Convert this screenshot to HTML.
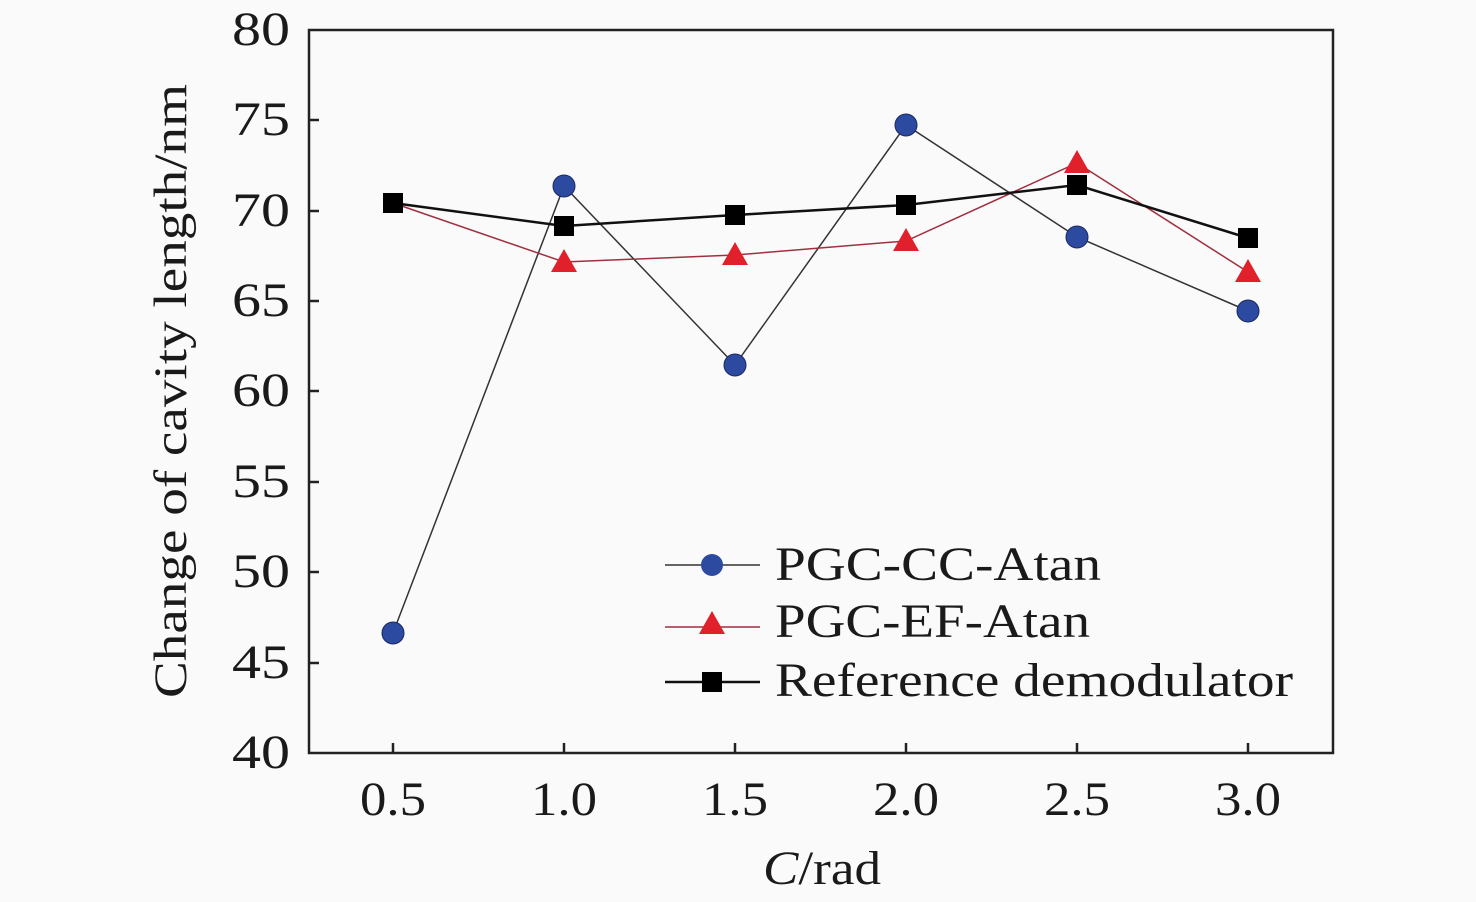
<!DOCTYPE html>
<html><head><style>body{margin:0;background:#fafafa}svg{display:block}</style></head><body>
<svg width="1476" height="902" viewBox="0 0 1476 902" xmlns="http://www.w3.org/2000/svg" font-family="Liberation Serif, serif" fill="#1a1a1a">
<rect width="1476" height="902" fill="#fafafa"/>
<g stroke="#222" stroke-width="2.5" fill="none">
<rect x="309" y="30" width="1024" height="723"/>
<path d="M393 753v-10M564 753v-10M735 753v-10M906 753v-10M1077 753v-10M1248 753v-10M309 663h10M309 572h10M309 482h10M309 391h10M309 301h10M309 211h10M309 120h10"/>
</g>
<g font-size="48" text-anchor="end">
<text x="290" y="768" textLength="58" lengthAdjust="spacingAndGlyphs">40</text><text x="290" y="678" textLength="58" lengthAdjust="spacingAndGlyphs">45</text><text x="290" y="587" textLength="58" lengthAdjust="spacingAndGlyphs">50</text><text x="290" y="497" textLength="58" lengthAdjust="spacingAndGlyphs">55</text><text x="290" y="406" textLength="58" lengthAdjust="spacingAndGlyphs">60</text><text x="290" y="316" textLength="58" lengthAdjust="spacingAndGlyphs">65</text><text x="290" y="226" textLength="58" lengthAdjust="spacingAndGlyphs">70</text><text x="290" y="135" textLength="58" lengthAdjust="spacingAndGlyphs">75</text><text x="290" y="45" textLength="58" lengthAdjust="spacingAndGlyphs">80</text>
</g>
<g font-size="48" text-anchor="middle">
<text x="393" y="815" textLength="66" lengthAdjust="spacingAndGlyphs">0.5</text><text x="564" y="815" textLength="66" lengthAdjust="spacingAndGlyphs">1.0</text><text x="735" y="815" textLength="66" lengthAdjust="spacingAndGlyphs">1.5</text><text x="906" y="815" textLength="66" lengthAdjust="spacingAndGlyphs">2.0</text><text x="1077" y="815" textLength="66" lengthAdjust="spacingAndGlyphs">2.5</text><text x="1248" y="815" textLength="66" lengthAdjust="spacingAndGlyphs">3.0</text>
<text x="822" y="884" textLength="118" lengthAdjust="spacingAndGlyphs"><tspan font-style="italic">C</tspan>/rad</text>
<text transform="translate(186,391) rotate(-90)" font-size="47" textLength="614" lengthAdjust="spacingAndGlyphs">Change of cavity length/nm</text>
</g>
<polyline points="393,633 564,186 735,365 906,125 1077,237 1248,311" fill="none" stroke="#333" stroke-width="1.5"/>
<polyline points="393,203 564,262 735,255 906,241 1077,163 1248,272" fill="none" stroke="#a03040" stroke-width="1.5"/>
<polyline points="393,203 564,226 735,215 906,205 1077,185 1248,238" fill="none" stroke="#111" stroke-width="2.5"/>
<g fill="#2b4aa0" stroke="#1a2a60" stroke-width="1">
<circle cx="393" cy="633" r="11"/><circle cx="564" cy="186" r="11"/><circle cx="735" cy="365" r="11"/><circle cx="906" cy="125" r="11"/><circle cx="1077" cy="237" r="11"/><circle cx="1248" cy="311" r="11"/>
</g>
<g fill="#e0202a">
<path d="M564 249l13 23h-26z"/><path d="M735 242l13 23h-26z"/><path d="M906 228l13 23h-26z"/><path d="M1077 150l13 23h-26z"/><path d="M1248 259l13 23h-26z"/>
</g>
<g fill="#000">
<rect x="383" y="193" width="20" height="20"/><rect x="554" y="216" width="20" height="20"/><rect x="725" y="205" width="20" height="20"/><rect x="896" y="195" width="20" height="20"/><rect x="1067" y="175" width="20" height="20"/><rect x="1238" y="228" width="20" height="20"/>
</g>
<line x1="665" y1="565" x2="760" y2="565" stroke="#333" stroke-width="1.5"/>
<circle cx="712" cy="565" r="11" fill="#2b4aa0"/>
<line x1="665" y1="627" x2="760" y2="627" stroke="#a03040" stroke-width="1.5"/>
<path d="M712 611l13 23h-26z" fill="#e0202a"/>
<line x1="665" y1="682" x2="760" y2="682" stroke="#111" stroke-width="2.5"/>
<rect x="702" y="672" width="20" height="20" fill="#000"/>
<g font-size="48">
<text x="775" y="580" textLength="326" lengthAdjust="spacingAndGlyphs">PGC-CC-Atan</text>
<text x="775" y="637" textLength="315" lengthAdjust="spacingAndGlyphs">PGC-EF-Atan</text>
<text x="775" y="696" textLength="518" lengthAdjust="spacingAndGlyphs">Reference demodulator</text>
</g>
</svg>
</body></html>
